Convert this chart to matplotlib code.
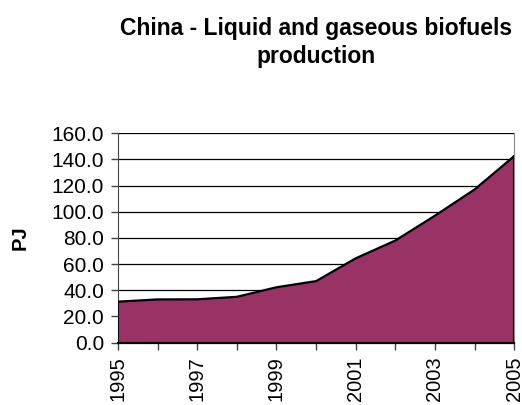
import matplotlib
matplotlib.use('Agg')
import matplotlib.pyplot as plt
import numpy as np

plt.rcParams['font.family'] = ['Liberation Sans', 'DejaVu Sans']

#* values (PJ)
years = [1995, 1996, 1997, 1998, 1999, 2000, 2001, 2002, 2003, 2004, 2005]
production = [31.3, 33.0, 33.1, 35.0, 42.3, 47.0, 64.4, 78.0, 97.0, 117.0, 142.5]
label_years = [1995, 1997, 1999, 2001, 2003, 2005]
y_ticks = [0, 20, 40, 60, 80, 100, 120, 140, 160]

title = 'China - Liquid and gaseous biofuels\nproduction'
fill_color = '#993366'

fig = plt.figure(figsize=(5.22, 4.05), dpi=100)
ax = plt.axes([0.226, 0.154, 0.759, 0.517])  # left, bottom, width, height

ax.fill_between(years, production, 0, facecolor=fill_color, edgecolor='none', zorder=2)
ax.plot(years, production, color='black', lw=1.6, zorder=3)
ax.plot([years[-1], years[-1]], [0, production[-1]], color='black', lw=1.6, zorder=3)
ax.plot([years[0], years[0]], [0, production[0]], color='black', lw=1.2, zorder=3)

ax.set_xlim(years[0], years[-1])
ax.set_ylim(0, 160)
ax.set_yticks(y_ticks)
ax.set_yticklabels(['{:.1f}'.format(v) for v in y_ticks])
ax.yaxis.grid(True, color='black', lw=0.9)
ax.set_axisbelow(True)

ax.set_xticks(years)
ax.set_xticklabels([str(y) if y in label_years else '' for y in years], rotation=90)

ax.tick_params(axis='both', labelsize=15, direction='out', length=5, width=1, color='#444444')
ax.tick_params(axis='y', pad=5)
ax.tick_params(axis='x', labelsize=14.5, pad=5)

ax.spines['top'].set_visible(False)
ax.spines['right'].set_color('#888888')
ax.spines['left'].set_color('#444444')
ax.spines['bottom'].set_color('black')
ax.spines['bottom'].set_linewidth(1.6)

ax.set_ylabel('PJ', fontsize=14.5, fontweight='bold', labelpad=16)
fig.text(0.605, 1 - 63 / 405, title, ha='center', va='baseline', fontsize=16.5,
         fontweight='bold', linespacing=1.25)

plt.savefig('out.png', dpi=100)
